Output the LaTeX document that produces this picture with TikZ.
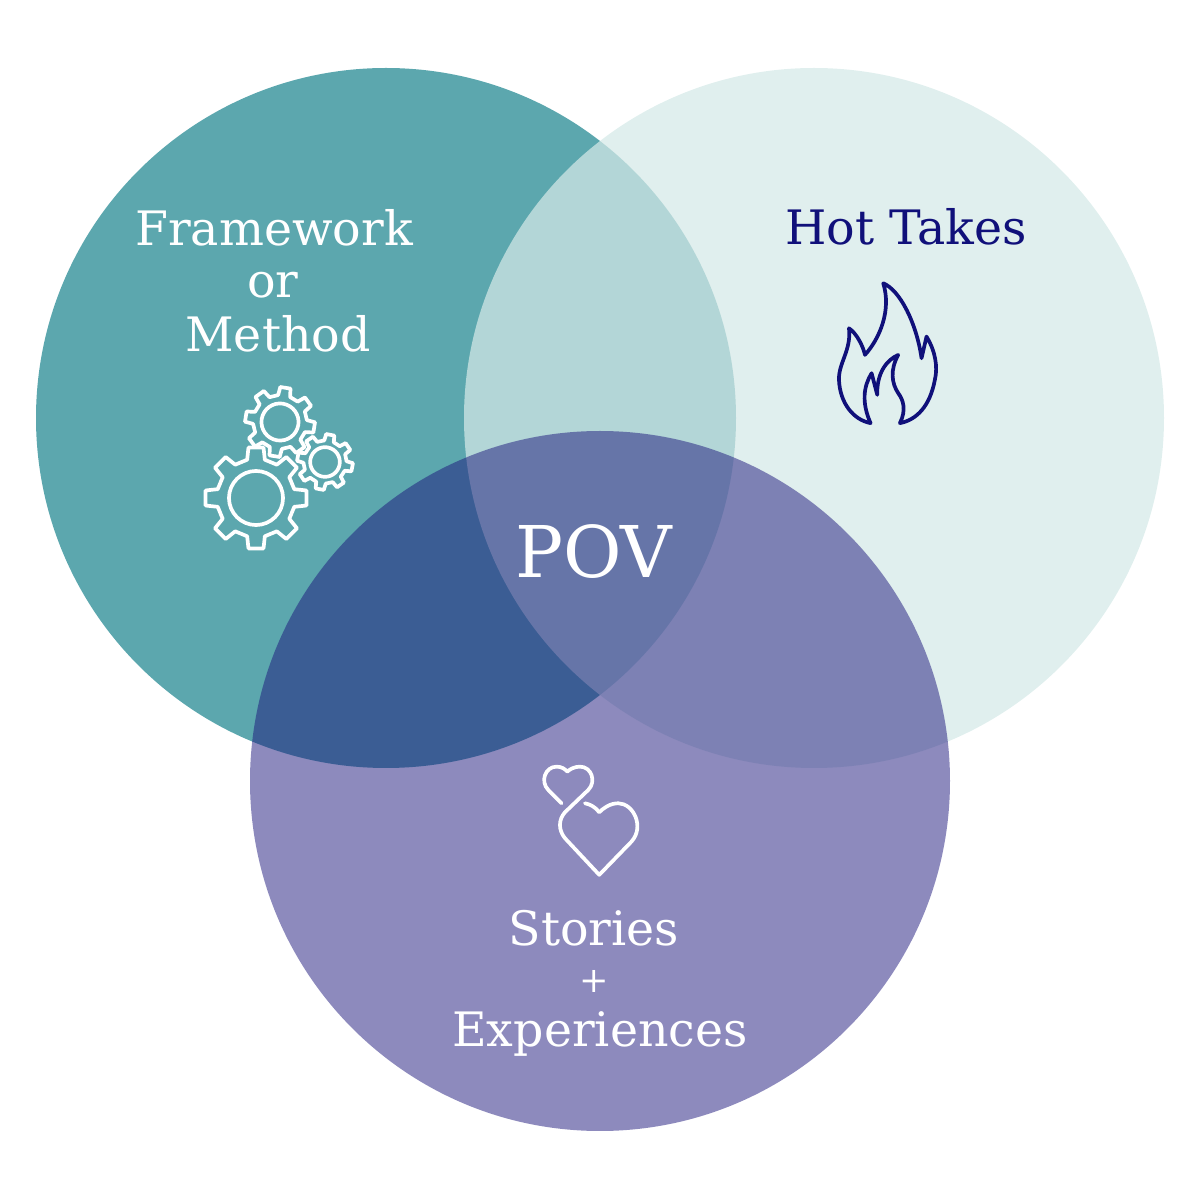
\documentclass[tikz,border=0pt]{standalone}
\usepackage{fontspec}
\setmainfont{DejaVu Serif}
\usetikzlibrary{calc}
\definecolor{tealc}{HTML}{5CA7AE}
\definecolor{palec}{HTML}{D4E9E7}
\definecolor{navyc}{HTML}{1B157B}
\definecolor{flamec}{HTML}{10107A}

\begin{document}
\begin{tikzpicture}[lab/.style={anchor=base, inner sep=0pt, text=white, font=\fontsize{13.5pt}{16pt}\selectfont},
  iconline/.style={draw=white, line width=1.05pt, line join=round, line cap=round},
  gearicon/.pic={
    \draw[iconline] (-8.5:1) foreach \a in {0,45,...,315} { -- (\a-8.5:1) -- (\a+8.5:1) -- (\a+13:.77) -- (\a+32:.77) } -- cycle;
    \draw[iconline] (0,0) circle (.53);
  }]

\useasboundingbox (0,0) rectangle (12,12);

\fill [tealc] (3.86,7.82) circle (3.5);
\fill [palec, opacity=0.725] (8.14,7.82) circle (3.5);
\fill [navyc, opacity=0.5] (6,4.19) circle (3.5);

\node[lab] at (2.74,9.54) (Framework) {Framework};
\node[lab] at (2.73,9.02) (Or) {or};
\node[lab] at (2.78,8.48) (Method) {Method};

\node[lab, text=flamec] at (9.06,9.55) (HotTakes) {Hot Takes};

\node[lab, font=\fontsize{20.3pt}{25pt}\selectfont] at (5.935,6.22) (POV) {POV};

\node[lab] at (5.94,2.55) (Stories) {Stories};
\node[lab, font=\fontsize{10pt}{12pt}\selectfont] at (5.94,2.08) (Plus) {+};
\node[lab] at (6.0,1.53) (Experiences) {Experiences};

% gears
\pic[scale=.51] at (2.56,7.02) {gearicon};
\pic[scale=.35, rotate=-9] at (2.80,7.78) {gearicon};
\pic[scale=.28, rotate=-11] at (3.25,7.38) {gearicon};

% flame
\begin{scope}[shift={(8.2,9.3)}, x=.0333mm, y=-.0333mm]
\draw[iconline, draw=flamec] (190,40) .. controls (240,60) and (290,160) .. (305,265) -- (320,200)
  .. controls (345,240) and (355,290) .. (345,330) .. controls (330,410) and (290,450) .. (240,460)
  .. controls (260,420) and (250,390) .. (235,370) .. controls (215,340) and (210,300) .. (235,255)
  .. controls (200,270) and (170,310) .. (172,375) -- (155,310)
  .. controls (130,350) and (125,400) .. (152,460) .. controls (100,450) and (60,400) .. (57,330)
  .. controls (55,280) and (95,240) .. (87,175) .. controls (110,190) and (130,230) .. (135,255)
  .. controls (180,205) and (215,120) .. (190,40) -- cycle;
\end{scope}

% hearts
\begin{scope}[shift={(5.3,4.45)}, x=.0333mm, y=-.0333mm]
\draw[iconline] (95,145) -- (55,105) .. controls (30,80) and (45,35) .. (80,35)
  .. controls (95,35) and (105,42) .. (112,50) .. controls (120,42) and (135,35) .. (150,35)
  .. controls (185,35) and (200,80) .. (175,105) -- (105,172)
  .. controls (85,195) and (85,225) .. (105,250) -- (208,360) -- (305,260)
  .. controls (345,215) and (310,145) .. (265,145) .. controls (240,145) and (220,160) .. (208,172)
  .. controls (195,155) and (180,148) .. (165,145);
\end{scope}

\end{tikzpicture}
\end{document}
